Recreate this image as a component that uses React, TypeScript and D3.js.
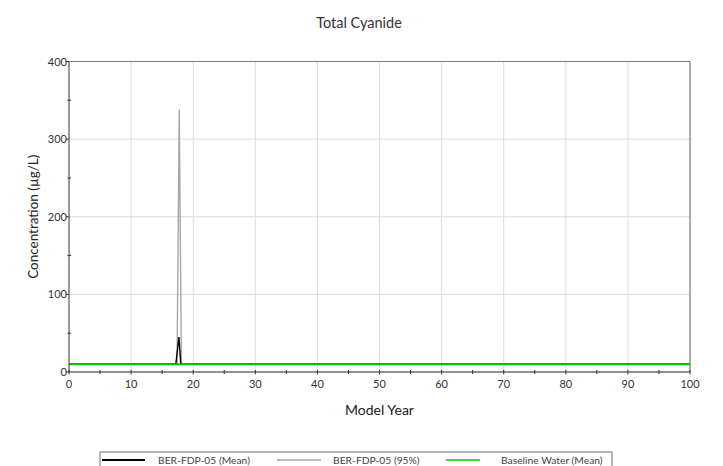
import React from "react";
import * as d3 from "d3";

const title = "Total Cyanide";
const xLabel = "Model Year";
const yLabel = "Concentration (µg/L)";

const meanYears = [0, 17.2, 17.7, 18.0, 100];
const meanValues = [10, 10, 45, 10, 10];

const p95Years = [0, 17.4, 17.75, 18.1, 100];
const p95Values = [10, 10, 338, 10, 10];

const baseYears = [0, 100];
const baseValues = [10, 10];

const xTicks = [0, 10, 20, 30, 40, 50, 60, 70, 80, 90, 100];
const xMinor = [5, 15, 25, 35, 45, 55, 65, 75, 85, 95];
const yTicks = [0, 100, 200, 300, 400];
const yMinor = [50, 150, 250, 350];

const legendNames = ["BER-FDP-05 (Mean)", "BER-FDP-05 (95%)", "Baseline Water (Mean)"];
const legendColors = ["#000000", "#a6a6a6", "#00c800"];

const W = 723, H = 466;
const M = { left: 69, right: 690, top: 61.5, bottom: 372 };
const FONT = "Lato, 'Open Sans', sans-serif";

export default function App() {
  const x = d3.scaleLinear().domain([0, 100]).range([M.left, M.right]);
  const y = d3.scaleLinear().domain([0, 400]).range([M.bottom, M.top]);
  const mk = (xs: number[], vs: number[]) =>
    d3.line<number>().x((_, i) => x(xs[i])).y((v) => y(v))(vs) || "";

  const series = [
    { d: mk(meanYears, meanValues), color: legendColors[0], w: 1.4 },
    { d: mk(p95Years, p95Values), color: legendColors[1], w: 1.4 },
    { d: mk(baseYears, baseValues), color: legendColors[2], w: 2 },
  ];
  const drawOrder = [1, 0, 2];

  const legendX = [100, 275, 444];
  const legendLineW = [43, 44, 34];
  const legendTextX = [158, 333, 501];

  return (
    <svg width={W} height={H} style={{ position: "absolute", left: 0, top: 0, background: "#fff" }} fontFamily={FONT}>
      <rect x={0} y={0} width={W} height={H} fill="#fff" />
      <text x={359} y={28} textAnchor="middle" fontSize={14.5} fill="#333">{title}</text>
      {/* grid */}
      {xTicks.slice(1, -1).map((t) => (
        <line key={"gx" + t} x1={x(t)} x2={x(t)} y1={M.top} y2={M.bottom} stroke="#dcdcdc" strokeWidth={1} />
      ))}
      {yTicks.slice(1, -1).map((t) => (
        <line key={"gy" + t} x1={M.left} x2={M.right} y1={y(t)} y2={y(t)} stroke="#dcdcdc" strokeWidth={1} />
      ))}
      {/* frame */}
      <line x1={M.left} x2={M.right} y1={M.top} y2={M.top} stroke="#7a7a7a" strokeWidth={1.2} />
      <line x1={M.right} x2={M.right} y1={M.top} y2={M.bottom} stroke="#7a7a7a" strokeWidth={1.2} />
      {/* series */}
      {drawOrder.map((i) => (
        <path key={"s" + i} d={series[i].d} fill="none" stroke={series[i].color} strokeWidth={series[i].w} strokeLinejoin="miter" />
      ))}
      {/* axes */}
      <line x1={M.left} x2={M.left} y1={M.top} y2={M.bottom} stroke="#555" strokeWidth={1.2} />
      <line x1={M.left} x2={M.right} y1={M.bottom} y2={M.bottom} stroke="#222" strokeWidth={1.2} />
      {yTicks.map((t) => (
        <g key={"yt" + t}>
          <line x1={M.left - 3} x2={M.left} y1={y(t)} y2={y(t)} stroke="#333" />
          <text x={M.left - 2} y={y(t) + 4} textAnchor="end" fontSize={11} fill="#333">{t}</text>
        </g>
      ))}
      {yMinor.map((t) => (
        <line key={"ym" + t} x1={M.left - 1.5} x2={M.left + 2} y1={y(t)} y2={y(t)} stroke="#333" />
      ))}
      {xTicks.map((t) => (
        <g key={"xt" + t}>
          <line x1={x(t)} x2={x(t)} y1={M.bottom - 2} y2={M.bottom + 2.5} stroke="#333" />
          <text x={x(t)} y={M.bottom + 16} textAnchor="middle" fontSize={11} fill="#333">{t}</text>
        </g>
      ))}
      {xMinor.map((t) => (
        <line key={"xm" + t} x1={x(t)} x2={x(t)} y1={M.bottom - 2} y2={M.bottom + 2} stroke="#333" />
      ))}
      <text x={(M.left + M.right) / 2} y={415} textAnchor="middle" fontSize={14} fill="#222">{xLabel}</text>
      <text transform={`translate(38,${(M.top + M.bottom) / 2}) rotate(-90)`} textAnchor="middle" fontSize={13.5} fill="#222">{yLabel}</text>
      {/* legend */}
      <rect x={100} y={452} width={512} height={30} fill="#fff" stroke="#888" strokeWidth={1.2} />
      {legendNames.map((n, i) => (
        <g key={"lg" + i}>
          <line x1={legendX[i] + 2} x2={legendX[i] + 2 + legendLineW[i]} y1={460} y2={460} stroke={legendColors[i]} strokeWidth={i === 0 ? 2 : 1.5} />
          <text x={legendTextX[i]} y={464} fontSize={10.3} fill="#444">{n}</text>
        </g>
      ))}
    </svg>
  );
}
